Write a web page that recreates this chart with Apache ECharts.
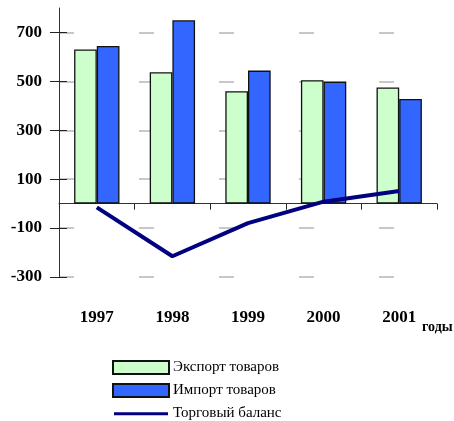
<!DOCTYPE html>
<html><head><meta charset="utf-8">
<script src="https://cdn.jsdelivr.net/npm/echarts@6/dist/echarts.min.js"></script>
<style>html,body{margin:0;padding:0;background:#fff}#c{width:454px;height:421px}</style>
</head><body><div id="c"></div>
<script>
const years = ['1997','1998','1999','2000','2001'];
const exportGoods = [630, 537, 460, 505, 475];
const importGoods = [645, 750, 544, 499, 428];
const tradeBalance = [-15, -215, -80, 8, 52];
const yTicks = [-300, -100, 100, 300, 500, 700];
const seriesNames = ['Экспорт товаров', 'Импорт товаров', 'Торговый баланс'];
const xName = 'годы';

const FONT = "'Liberation Serif', 'Times New Roman', serif";
const chart = echarts.init(document.getElementById('c'), null, {renderer: 'canvas'});
chart.setOption({
  animation: false,
  backgroundColor: '#fff',
  grid: {left: 59, right: 17, top: 8, bottom: 144, containLabel: false, outerBoundsMode: 'none'},
  legend: {
    orient: 'vertical', left: 112, top: 360, width: 200, height: 80, padding: 0,
    itemWidth: 56, itemHeight: 13, itemGap: 8,
    textStyle: {fontFamily: FONT, fontSize: 15, lineHeight: 13, color: '#000', padding: [0,0,0,-1]},
    data: [
      {name: seriesNames[0], icon: 'rect'},
      {name: seriesNames[1], icon: 'rect'},
      {name: seriesNames[2], icon: 'path://M0,0L0.1,0M0,5.2H54V8.2H0ZM0,13L0.1,13', itemStyle: {color: '#000080', borderWidth: 0}}
    ]
  },
  xAxis: [{
    type: 'category', data: years, boundaryGap: true,
    axisLine: {onZero: true, lineStyle: {color: '#333', width: 1}},
    axisTick: {show: true, length: 6, lineStyle: {color: '#222', width: 1}},
    axisLabel: {show: false}, splitLine: {show: false}
  }, {
    type: 'category', data: years, position: 'bottom', gridIndex: 0,
    axisLine: {show: false, onZero: false}, axisTick: {show: false},
    axisLabel: {show: true, margin: 32, fontFamily: FONT, fontWeight: 'bold', fontSize: 17, color: '#000'},
    name: xName, nameLocation: 'end', nameGap: -16,
    nameTextStyle: {fontFamily: FONT, fontWeight: 'bold', fontSize: 14, color: '#000', align: 'left', verticalAlign: 'top', padding: [43,0,0,0]}
  }],
  yAxis: [{
    type: 'value', min: -300, max: 800, interval: 100,
    axisLine: {show: true, lineStyle: {color: '#333', width: 1}},
    axisTick: {show: true, length: 9, customValues: yTicks, lineStyle: {color: '#222', width: 1}},
    axisLabel: {show: true, customValues: yTicks, margin: 17, fontFamily: FONT, fontWeight: 'bold', fontSize: 17, color: '#000'},
    splitLine: {show: true, lineStyle: {color: '#c8c8c8', width: 2, type: [15, 65]}}
  }, {
    type: 'value', min: -300, max: 800, interval: 100, position: 'left',
    axisLine: {show: false}, axisLabel: {show: false}, splitLine: {show: false},
    axisTick: {show: true, inside: true, length: 8, customValues: yTicks, lineStyle: {color: '#222', width: 1}}
  }],
  series: [{
    name: seriesNames[0], type: 'bar', data: exportGoods, barWidth: '30%', barGap: '0%',
    itemStyle: {color: '#ccffcc', borderColor: '#111', borderWidth: 1.3}
  }, {
    name: seriesNames[1], type: 'bar', data: importGoods, barWidth: '30%', barGap: '0%',
    itemStyle: {color: '#3366ff', borderColor: '#111', borderWidth: 1.3}
  }, {
    name: seriesNames[2], type: 'line', data: tradeBalance, symbol: 'none', showSymbol: false,
    lineStyle: {color: '#000080', width: 4}, itemStyle: {color: '#000080'}, z: 5
  }]
});
</script></body></html>
